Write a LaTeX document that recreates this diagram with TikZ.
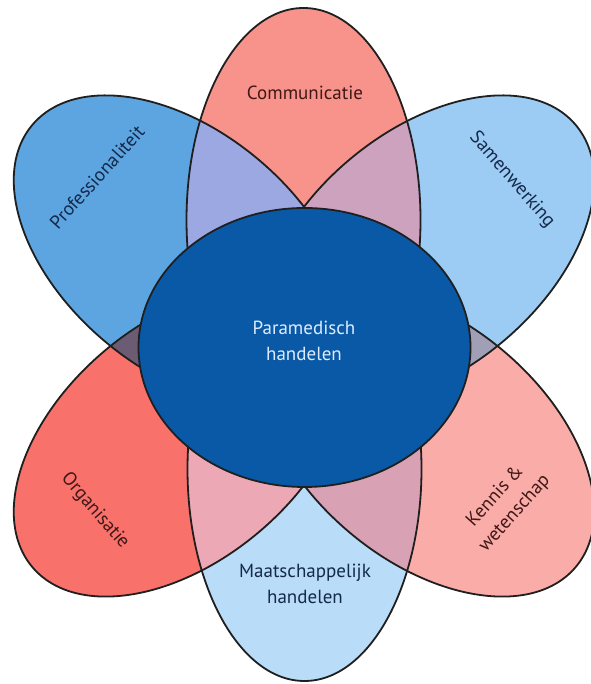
\documentclass[tikz,border=0pt]{standalone}
\usepackage{fontspec}
\setmainfont{PT Sans}
\definecolor{cComm}{HTML}{F8938B}
\definecolor{cProf}{HTML}{5CA5E0}
\definecolor{cSam}{HTML}{9CCBF4}
\definecolor{cOrg}{HTML}{F8716A}
\definecolor{cKen}{HTML}{FAADA8}
\definecolor{cMaat}{HTML}{B9DCF8}
\definecolor{cCore}{HTML}{0A59A6}
\definecolor{oTP}{HTML}{9CA8E2}
\definecolor{oTS}{HTML}{CCA2BF}
\definecolor{oPO}{HTML}{6B5B73}
\definecolor{oSK}{HTML}{A19FB6}
\definecolor{oBO}{HTML}{ECA9B5}
\definecolor{oBK}{HTML}{D9A1B4}
\definecolor{tRed}{HTML}{401818}
\definecolor{tBlue}{HTML}{15294A}
\definecolor{tCore}{HTML}{DCECFF}
\newcommand\PetTop[1]{\path[#1] (303.5,464) ellipse [x radius=117pt, y radius=212pt];}
\newcommand\PetBot[1]{\path[#1] (304.5,215) ellipse [x radius=117pt, y radius=212pt];}
\newcommand\PetProf[1]{\path[#1, rotate around={-40:(181.6,433.6)}] (181.6,433.6) ellipse [x radius=195pt, y radius=119pt];}
\newcommand\PetSam[1]{\path[#1, rotate around={40:(426.4,433.6)}] (426.4,433.6) ellipse [x radius=195pt, y radius=119pt];}
\newcommand\PetOrg[1]{\path[#1, rotate around={40:(181.6,242.4)}] (181.6,242.4) ellipse [x radius=195pt, y radius=119pt];}
\newcommand\PetKen[1]{\path[#1, rotate around={-40:(426.4,242.4)}] (426.4,242.4) ellipse [x radius=195pt, y radius=119pt];}
\begin{document}
\begin{tikzpicture}[x=1pt,y=1pt,
  outline/.style={draw=black!88, line width=1.8pt},
  lbl/.style={font=\fontsize{19}{26}\selectfont, align=center, inner sep=0pt}]
\useasboundingbox (0,0) rectangle (590,684);
\fill[white] (0,0) rectangle (590,684);
% petal fills
\PetTop{fill=cComm}
\PetBot{fill=cMaat}
\PetProf{fill=cProf}
\PetSam{fill=cSam}
\PetOrg{fill=cOrg}
\PetKen{fill=cKen}
% overlaps
\begin{scope}\PetTop{clip}\PetProf{fill=oTP}\end{scope}
\begin{scope}\PetTop{clip}\PetSam{fill=oTS}\end{scope}
\begin{scope}\PetProf{clip}\PetOrg{fill=oPO}\end{scope}
\begin{scope}\PetSam{clip}\PetKen{fill=oSK}\end{scope}
\begin{scope}\PetBot{clip}\PetOrg{fill=oBO}\end{scope}
\begin{scope}\PetBot{clip}\PetKen{fill=oBK}\end{scope}
% outlines
\PetTop{outline}
\PetBot{outline}
\PetProf{outline}
\PetSam{outline}
\PetOrg{outline}
\PetKen{outline}
% core
\path[outline, fill=cCore] (304.5,336.5) ellipse [x radius=166pt, y radius=139.5pt];
% labels
\node[lbl, text=tRed] (communicatie) at (305,591) {Communicatie};
\node[lbl, text=tBlue, rotate=48] (professionaliteit) at (97,507) {Professionaliteit};
\node[lbl, text=tBlue, rotate=-49] (samenwerking) at (512,504) {Samenwerking};
\node[lbl, text=tCore] (paramedisch) at (304,343) {Paramedisch\\handelen};
\node[lbl, text=tRed, rotate=-49] (organisatie) at (95,173) {Organisatie};
\node[lbl, text=tRed, rotate=48] (kennis) at (505,179) {Kennis \&\\wetenschap};
\node[lbl, text=tBlue] (maatschappelijk) at (305,100) {Maatschappelijk\\handelen};
\end{tikzpicture}
\end{document}
